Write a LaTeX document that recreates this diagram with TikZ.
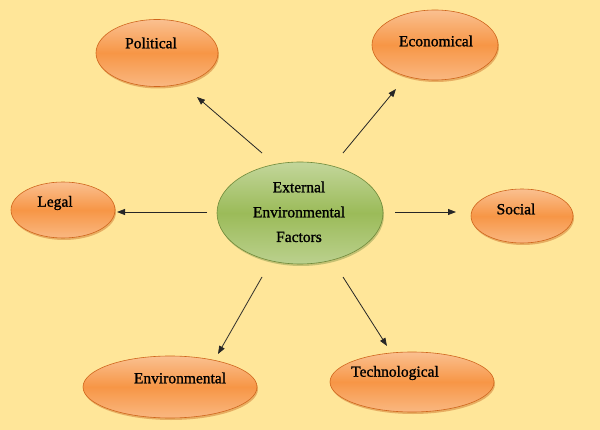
\documentclass[tikz,border=0pt]{standalone}
\usepackage{fontspec}
\setmainfont{Liberation Serif}
\newfontfamily\lblfont[FakeBold=1.2]{Liberation Serif}
\usetikzlibrary{arrows.meta,shapes.geometric,shadows}
\definecolor{bgcol}{HTML}{FFE699}
\definecolor{orgA}{HTML}{FAC090}
\definecolor{orgB}{HTML}{F79646}
\definecolor{orgD}{HTML}{C55A11}
\definecolor{grnA}{HTML}{C3D69B}
\definecolor{grnB}{HTML}{9BBB59}
\definecolor{grnD}{HTML}{6F8A3A}
\begin{document}
\begin{tikzpicture}[x=1pt,y=-1pt,
  factor/.style={ellipse,draw=orgD!80!orgB,line width=0.6pt,top color=orgA,bottom color=orgA!80!orgB,middle color=orgB,
    drop shadow={shadow xshift=1pt,shadow yshift=-2pt,opacity=0.4,fill=orgD}},
  core/.style={ellipse,draw=grnD,line width=0.6pt,top color=grnA,bottom color=grnA!80!grnB,middle color=grnB,
    drop shadow={shadow xshift=1pt,shadow yshift=-2pt,opacity=0.4,fill=grnD}},
  lbl/.style={font=\lblfont\fontsize{15.5}{19}\selectfont,text=black},
  arr/.style={-{Triangle[length=8pt,width=6pt]},line width=0.8pt,draw=black!85}]
\fill[bgcol] (0,0) rectangle (600,430);
\useasboundingbox (0,0) rectangle (600,430);
% ellipses
\node[factor,minimum width=122pt,minimum height=67pt] (pol) at (157,53) {};
\node[factor,minimum width=126pt,minimum height=70pt] (eco) at (435,45) {};
\node[factor,minimum width=104pt,minimum height=56pt] (leg) at (63,210) {};
\node[factor,minimum width=102pt,minimum height=54pt] (soc) at (522,216) {};
\node[factor,minimum width=174pt,minimum height=62pt] (env) at (170,387) {};
\node[factor,minimum width=164pt,minimum height=60pt] (tec) at (412,382) {};
\node[core,minimum width=166pt,minimum height=102pt] (ext) at (300,213) {};
% labels
\node[lbl] (tpol) at (151,43) {Political};
\node[lbl] (teco) at (436,41) {Economical};
\node[lbl] (tleg) at (55,203) {Legal};
\node[lbl] (tsoc) at (516,209) {Social};
\node[lbl] (tenv) at (180,378) {Environmental};
\node[lbl] (ttec) at (395,373) {Technological};
\node[lbl] (t1) at (299,187) {External};
\node[lbl] (t2) at (299,212) {Environmental};
\node[lbl] (t3) at (299,237) {Factors};
% connector endpoints
\coordinate (apol) at (197,97);
\coordinate (aeco) at (396,89);
\coordinate (aleg) at (117,212);
\coordinate (asoc) at (456,212);
\coordinate (aenv) at (218,354);
\coordinate (atec) at (387,346);
\coordinate (spol) at (262,153);
\coordinate (seco) at (343,153);
\coordinate (sleg) at (207,212);
\coordinate (ssoc) at (395,212);
\coordinate (senv) at (262,277);
\coordinate (stec) at (343,277);
\draw[arr] (spol) -- (apol);
\draw[arr] (seco) -- (aeco);
\draw[arr] (sleg) -- (aleg);
\draw[arr] (ssoc) -- (asoc);
\draw[arr] (senv) -- (aenv);
\draw[arr] (stec) -- (atec);
\end{tikzpicture}
\end{document}
